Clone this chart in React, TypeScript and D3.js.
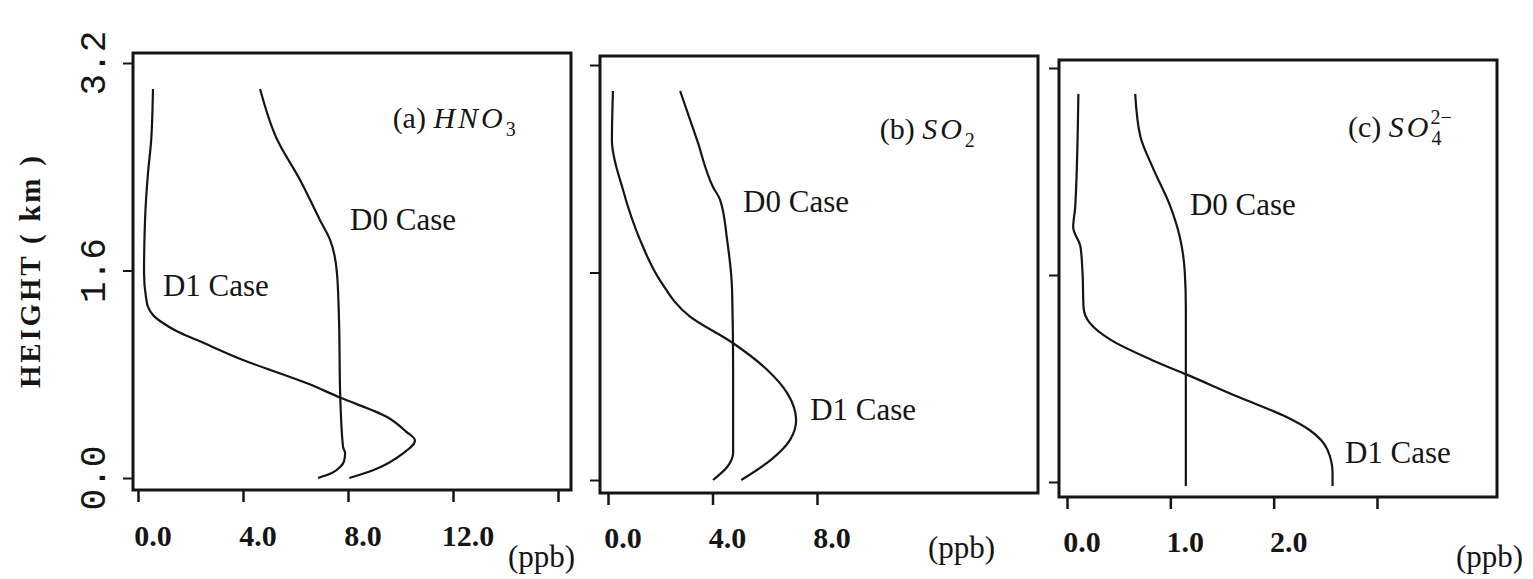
import { useEffect, useRef } from 'react';
import * as d3 from 'd3';

// --- data: [height (km), concentration (ppb)] ---
const heightTicks = [0, 1.6, 3.2];
const heightTickLabels = ['0.0', '1.6', '3.2'];

const hno3Ticks = [0, 4, 8, 12, 16];
const hno3TickLabels = ['0.0', '4.0', '8.0', '12.0', ''];
const so2Ticks = [0, 4, 8];
const so2TickLabels = ['0.0', '4.0', '8.0'];
const so4Ticks = [0, 1, 2, 3];
const so4TickLabels = ['0.0', '1.0', '2.0', ''];

const hno3D0: [number, number][] = [
  [0, 6.86], [0.04, 7.4], [0.085, 7.7], [0.13, 7.85], [0.19, 7.89], [0.24, 7.81],
  [0.66, 7.7], [1.2, 7.66], [1.58, 7.58], [1.84, 7.31], [1.99, 6.93], [2.3, 6.17],
  [2.61, 5.3], [3.0, 4.65],
];
const hno3D1: [number, number][] = [
  [0, 8.05], [0.06, 8.95], [0.19, 10.1], [0.29, 10.55], [0.36, 10.2], [0.47, 9.49],
  [0.62, 7.7], [0.73, 6.44], [0.91, 4.0], [1.064, 2.25], [1.13, 1.5], [1.195, 0.95],
  [1.25, 0.6], [1.32, 0.38], [1.4, 0.3], [1.58, 0.23], [2.0, 0.27], [2.35, 0.38],
  [2.6, 0.5], [3.0, 0.57],
];
const so2D0: [number, number][] = [
  [0, 4.02], [0.1, 4.56], [0.21, 4.79], [0.83, 4.79], [1.46, 4.75], [1.85, 4.56],
  [2.16, 4.29], [2.26, 4.02], [2.62, 3.41], [3.0, 2.76],
];
const so2D1: [number, number][] = [
  [0, 5.1], [0.15, 6.2], [0.31, 6.97], [0.46, 7.2], [0.67, 6.86], [0.85, 6.09],
  [1.06, 4.75], [1.26, 3.14], [1.54, 1.99], [1.85, 1.23], [2.24, 0.57], [2.62, 0.15],
  [3.0, 0.19],
];
const so4D0: [number, number][] = [
  [-0.03, 1.15], [1.35, 1.15], [1.62, 1.14], [1.9, 1.09], [2.13, 1.0], [2.43, 0.83],
  [2.67, 0.71], [3.0, 0.66],
];
const so4D1: [number, number][] = [
  [-0.03, 2.57], [0.07, 2.57], [0.25, 2.52], [0.4, 2.35], [0.5, 2.13], [0.66, 1.65],
  [0.83, 1.16], [0.94, 0.83], [1.1, 0.42], [1.23, 0.22], [1.35, 0.16], [1.62, 0.15],
  [1.82, 0.13], [1.97, 0.06], [2.13, 0.08], [3.0, 0.11],
];

// --- layout of the three panels (pixels) ---
const panels = [
  {
    tag: '(a) ', species: 'HNO', sub: '3', sup: '',
    d0: hno3D0, d1: hno3D1, ticks: hno3Ticks, tickLabels: hno3TickLabels,
    xDomain: [0, 16], xRange: [138, 558], yRange: [478, 63],
    frame: { left: 133, top: 53, right: 571, bottom: 490 },
    title: [9.7, 2.7], d0Label: [8.08, 1.91], d1Label: [0.95, 1.4],
    tickLabelY: 546, ppb: [508, 567],
  },
  {
    tag: '(b) ', species: 'SO', sub: '2', sup: '',
    d0: so2D0, d1: so2D1, ticks: so2Ticks, tickLabels: so2TickLabels,
    xDomain: [0, 8], xRange: [608, 817], yRange: [480, 65],
    frame: { left: 600, top: 56, right: 1038, bottom: 493 },
    title: [10.4, 2.63], d0Label: [5.17, 2.07], d1Label: [7.74, 0.46],
    tickLabelY: 548, ppb: [928, 558],
  },
  {
    tag: '(c) ', species: 'SO', sub: '4', sup: '2−',
    d0: so4D0, d1: so4D1, ticks: so4Ticks, tickLabels: so4TickLabels,
    xDomain: [0, 3], xRange: [1067, 1377], yRange: [482, 68],
    frame: { left: 1059, top: 60, right: 1497, bottom: 497 },
    title: [2.72, 2.67], d0Label: [1.19, 2.06], d1Label: [2.69, 0.15],
    tickLabelY: 552, ppb: [1456, 567],
  },
];

const serif = "'Liberation Serif', 'Times New Roman', serif";
const ink = '#151515';

export default function App() {
  const ref = useRef<SVGSVGElement>(null);

  useEffect(() => {
    const width = 1533;
    const height = 579;
    const svg = d3.select(ref.current)
      .attr('width', width)
      .attr('height', height)
      .attr('viewBox', `0 0 ${width} ${height}`)
      .style('position', 'absolute')
      .style('left', '0px')
      .style('top', '0px')
      .style('background', '#fff');

    svg.selectAll('*').remove();

    panels.forEach((p, i) => {
      const x = d3.scaleLinear().domain(p.xDomain).range(p.xRange);
      const y = d3.scaleLinear().domain([0, 3.2]).range(p.yRange);
      const g = svg.append('g');

      // frame
      g.append('rect')
        .attr('x', p.frame.left)
        .attr('y', p.frame.top)
        .attr('width', p.frame.right - p.frame.left)
        .attr('height', p.frame.bottom - p.frame.top)
        .attr('fill', 'none')
        .attr('stroke', ink)
        .attr('stroke-width', 3);

      // y ticks, outside left
      g.append('g')
        .attr('transform', `translate(${p.frame.left},0)`)
        .call(d3.axisLeft(y).tickValues(heightTicks).tickSize(10).tickFormat(() => ''))
        .call(a => a.select('.domain').remove())
        .call(a => a.selectAll('line').attr('stroke', ink).attr('stroke-width', 2));

      // x ticks, hanging below frame
      g.append('g')
        .attr('transform', `translate(0,${p.frame.bottom})`)
        .call(d3.axisBottom(x).tickValues(p.ticks).tickSize(12).tickFormat(() => ''))
        .call(a => a.select('.domain').remove())
        .call(a => a.selectAll('line').attr('stroke', ink).attr('stroke-width', 2.5));

      g.selectAll('text.xlab')
        .data(p.ticks)
        .join('text')
        .attr('class', 'xlab')
        .attr('x', d => x(d) + 15)
        .attr('y', p.tickLabelY)
        .attr('text-anchor', 'middle')
        .attr('font-family', serif)
        .attr('font-weight', 'bold')
        .attr('font-size', 30)
        .attr('fill', ink)
        .text((d, j) => p.tickLabels[j]);

      g.append('text')
        .attr('x', p.ppb[0])
        .attr('y', p.ppb[1])
        .attr('font-family', serif)
        .attr('font-size', 31)
        .attr('fill', ink)
        .text('(ppb)');

      // profiles
      const line = d3.line<[number, number]>()
        .x(d => x(d[1]))
        .y(d => y(d[0]))
        .curve(d3.curveMonotoneY);

      [p.d0, p.d1].forEach(series => {
        g.append('path')
          .attr('d', line(series))
          .attr('fill', 'none')
          .attr('stroke', ink)
          .attr('stroke-width', 2.2);
      });

      // annotations
      [['D0 Case', p.d0Label], ['D1 Case', p.d1Label]].forEach(([txt, pos]) => {
        const [vx, vy] = pos as number[];
        g.append('text')
          .attr('x', x(vx))
          .attr('y', y(vy))
          .attr('font-family', serif)
          .attr('font-size', 31)
          .attr('fill', ink)
          .text(txt as string);
      });

      const title = g.append('text')
        .attr('x', x(p.title[0]))
        .attr('y', y(p.title[1]))
        .attr('font-family', serif)
        .attr('font-size', 30)
        .attr('fill', ink);
      title.append('tspan').attr('xml:space', 'preserve').text(p.tag);
      title.append('tspan')
        .attr('font-style', 'italic')
        .attr('letter-spacing', 3)
        .text(p.species);
      title.append('tspan')
        .attr('font-size', 20)
        .attr('dy', 8)
        .text(p.sub);
      if (p.sup) {
        title.append('tspan')
          .attr('font-size', 20)
          .attr('dx', -11)
          .attr('dy', -21)
          .text(p.sup);
      }

      // y tick labels + axis title on the first panel
      if (i === 0) {
        svg.selectAll('text.ylab')
          .data(heightTicks)
          .join('text')
          .attr('class', 'ylab')
          .attr('transform', d => `translate(95,${y(d)}) rotate(-90)`)
          .attr('text-anchor', 'middle')
          .attr('dominant-baseline', 'central')
          .attr('font-family', "'Liberation Mono', 'Courier New', monospace")
          .attr('font-size', 36)
          .attr('fill', ink)
          .text((d, j) => heightTickLabels[j]);

        svg.append('text')
          .attr('transform', `translate(30,272) rotate(-90)`)
          .attr('text-anchor', 'middle')
          .attr('dominant-baseline', 'central')
          .attr('font-family', serif)
          .attr('font-weight', 'bold')
          .attr('font-size', 29)
          .attr('textLength', 232)
          .attr('lengthAdjust', 'spacing')
          .attr('fill', ink)
          .text('HEIGHT ( km )');
      }
    });
  }, []);

  return <svg ref={ref}></svg>;
}
